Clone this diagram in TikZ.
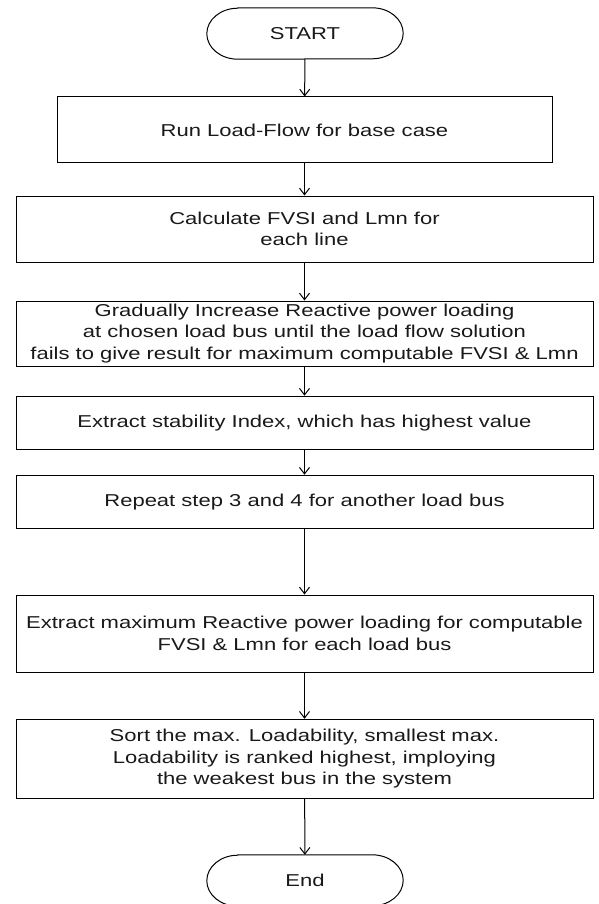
\documentclass[tikz,border=0pt]{standalone}
\usepackage{fontspec}
\setmainfont{Liberation Sans}[FakeStretch=1.28]
\usetikzlibrary{arrows.meta}
\begin{document}
\begin{tikzpicture}[x=1pt,y=-1pt,
  txt/.style={font=\fontsize{17.2}{21.5}\selectfont, text=black!90},
  box/.style={txt, draw, line width=1pt, rectangle, align=center, inner sep=0pt},
  term/.style={txt, align=center, inner sep=0pt,
    minimum width=196pt, minimum height=51pt},
  flow/.style={-{Straight Barb[length=6.5pt,width=10pt]}, line width=1pt}]
\useasboundingbox (0,0) rectangle (598,904);

% terminator outline: straight top and bottom, elliptical ends
\newcommand\termoutline[1]{%
  \draw[line width=1pt] ([xshift=31pt]#1.north west) -- ([xshift=-31pt]#1.north east)
    arc[start angle=90, end angle=-90, x radius=31pt, y radius=25.5pt]
    -- ([xshift=31pt]#1.south west)
    arc[start angle=270, end angle=90, x radius=31pt, y radius=25.5pt] -- cycle;}

\node[term] (start) at (305,33.5) {START};
\termoutline{start}
\node[box, minimum width=495pt, minimum height=66pt] (s1) at (304.5,130)
  {Run Load-Flow for base case};
\node[box, minimum width=577pt, minimum height=66pt] (s2) at (304.5,229)
  {Calculate FVSI and Lmn for\\each line};
\node[box, minimum width=577pt, minimum height=65pt] (s3) at (304.5,333.5)
  {Gradually Increase Reactive power loading\\at chosen load bus until the load flow solution\\fails to give result for maximum computable FVSI \& Lmn};
\node[box, minimum width=577pt, minimum height=53pt] (s4) at (304.5,422.7)
  {Extract stability Index, which has highest value};
\node[box, minimum width=577pt, minimum height=53.5pt] (s5) at (304.5,502)
  {Repeat step 3 and 4 for another load bus};
\node[box, minimum width=577pt, minimum height=77pt] (s6) at (304.5,633.5)
  {Extract maximum Reactive power loading for computable\\FVSI \& Lmn for each load bus};
\node[box, minimum width=577pt, minimum height=79pt] (s7) at (304.5,758.8)
  {Sort the max. Loadability, smallest max.\\Loadability is ranked highest, imploying\\the weakest bus in the system};
\node[term] (stop) at (305,880.5) {End};
\termoutline{stop}

\draw[flow] (start) -- (s1);
\draw[flow] (s1) -- (s2);
\draw[flow] (s2) -- (s3);
\draw[flow] (s3) -- (s4);
\draw[flow] (s4) -- (s5);
\draw[flow] (s5) -- (s6);
\draw[flow] (s6) -- (s7);
\draw[flow] (s7) -- (stop);
\end{tikzpicture}
\end{document}
